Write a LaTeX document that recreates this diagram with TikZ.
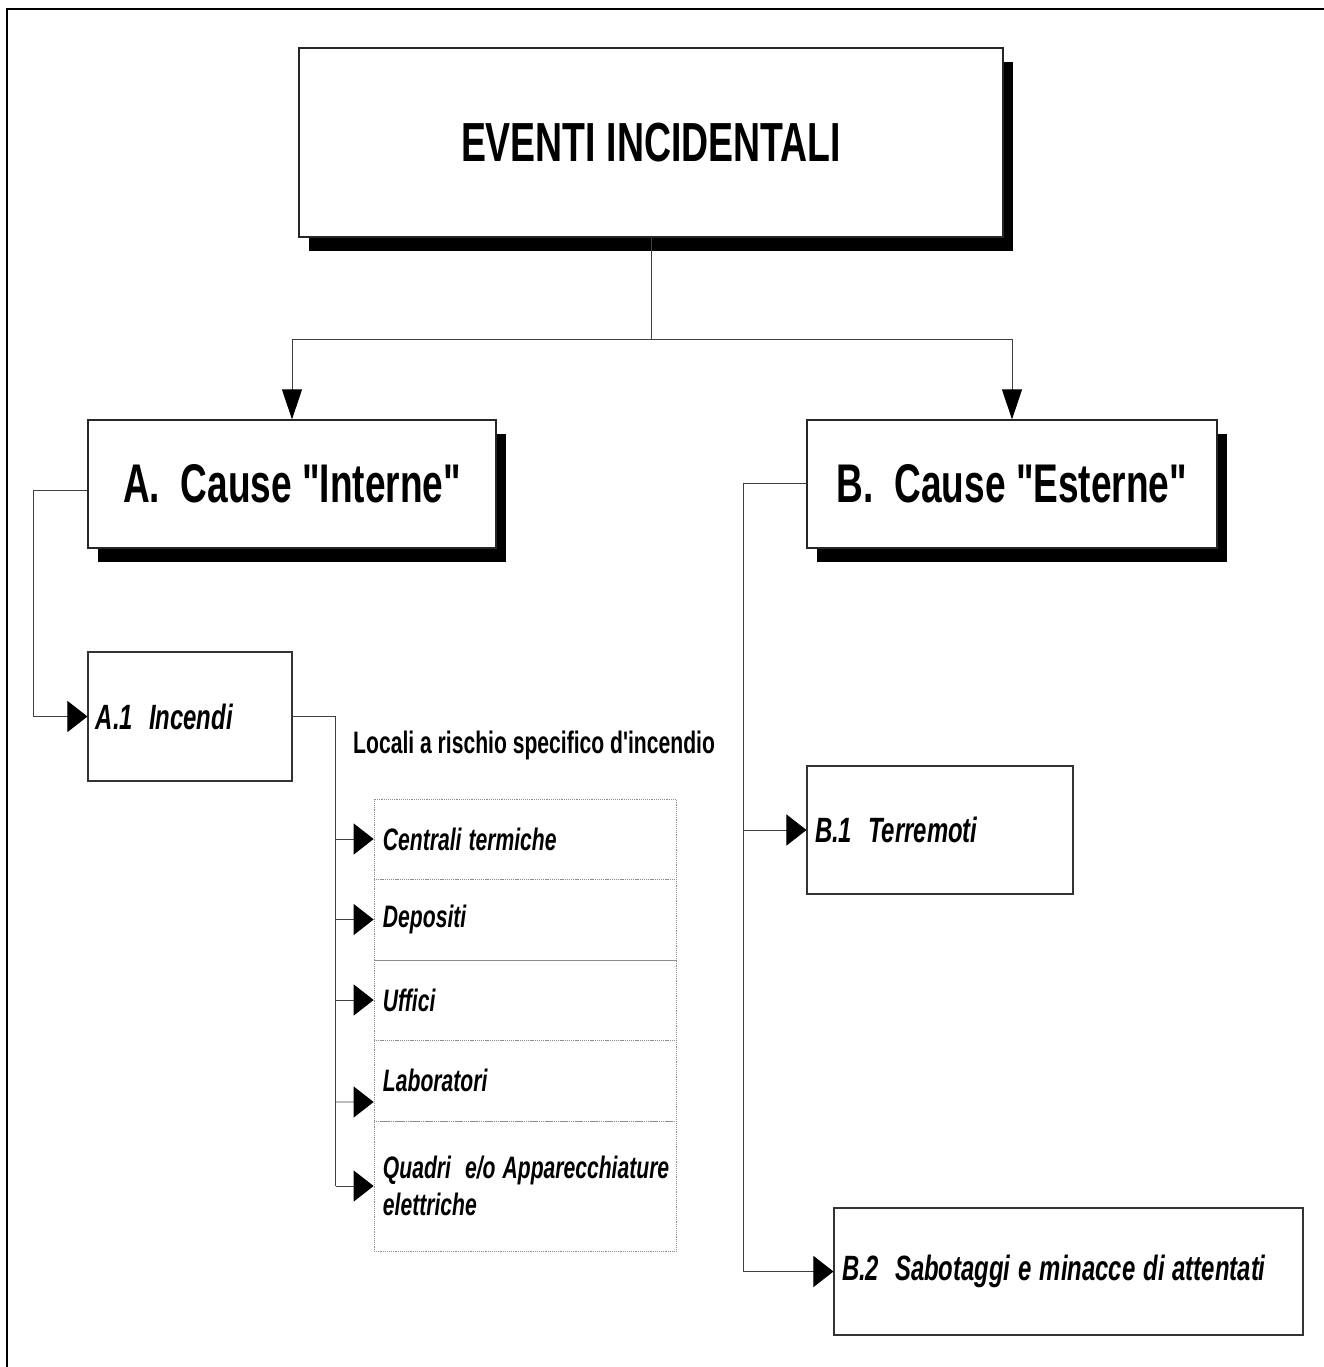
\documentclass[tikz,border=0pt]{standalone}
\usepackage{graphicx}
\usepackage{fontspec}
\setmainfont{Liberation Sans}
\usetikzlibrary{arrows.meta}
\usetikzlibrary{shadows}
\usetikzlibrary{positioning}

\newcommand\nar[1]{\scalebox{0.68}[1]{#1}}

\tikzset{
  shadowbox/.style={draw=black!85, line width=1.1pt, fill=white,
    drop shadow={shadow xshift=0.29cm, shadow yshift=-0.42cm, fill=black, opacity=1}},
  subbox/.style={draw=black!80, line width=0.9pt, fill=white, inner xsep=0.24cm,
    align=left, font=\fontsize{30}{34}\selectfont\bfseries\itshape},
  rowbox/.style={draw=black!45, densely dotted, line width=0.6pt, minimum width=9.06cm,
    text width=8.52cm, inner xsep=0.27cm, align=left,
    font=\fontsize{26.5}{32}\selectfont\bfseries\itshape},
  conn/.style={draw=black!75, line width=0.8pt},
  downtip/.style={-{Triangle[length=0.9cm,width=0.6cm,color=black]}},
  righttip/.style={-{Triangle[length=0.6cm,width=0.93cm,color=black]}}
}

\begin{document}
\begin{tikzpicture}[x=0.03cm,y=-0.03cm]
\useasboundingbox (0,0) rectangle (1324,1367);
\draw[line width=2.4pt] (7,1367) -- (7,9) -- (1324,9);

\node[shadowbox, minimum width=21.12cm, minimum height=5.67cm,
  font=\fontsize{47}{52}\selectfont\bfseries] (eventi) at (651,142.5) {\nar{EVENTI INCIDENTALI}};

\node[shadowbox, minimum width=12.24cm, minimum height=3.84cm,
  font=\fontsize{46.5}{52}\selectfont\bfseries] (interne) at (292,484)
  {\nar{A.\ \ Cause \textquotedbl Interne\textquotedbl}};
\node[shadowbox, minimum width=12.3cm, minimum height=3.84cm,
  font=\fontsize{46.5}{52}\selectfont\bfseries] (esterne) at (1012,484)
  {\nar{B.\ \ Cause \textquotedbl Esterne\textquotedbl}};

\node[subbox, minimum width=6.12cm, minimum height=3.87cm, text width=5.64cm] (incendi) at (190,716.5) {\nar{A.1\ \ Incendi}};
\node[subbox, minimum width=7.98cm, minimum height=3.84cm, text width=7.5cm] (terremoti) at (940,830) {\nar{B.1\ \ Terremoti}};
\node[subbox, minimum width=14.07cm, minimum height=3.81cm, text width=13.59cm] (sabotaggi) at (1068.5,1271.5) {\nar{B.2\ \ Sabotaggi e minacce di attentati}};

\node[anchor=base west, inner sep=0pt, font=\fontsize{26.5}{32}\selectfont\bfseries] (locali) at (353,753)
  {\nar{Locali a rischio specifico d\textquotesingle incendio}};

\node[rowbox, minimum height=2.4cm] (centrali) at (525,839) {\nar{Centrali termiche}};
\node[rowbox, minimum height=2.43cm] (depositi) at (525,919.5) {\nar{Depositi}};
\node[rowbox, minimum height=2.4cm] (uffici) at (525,1000) {\nar{Uffici}};
\node[rowbox, minimum height=2.43cm] (laboratori) at (525,1080.5) {\nar{Laboratori}};
\node[rowbox, minimum height=3.9cm] (quadri) at (525,1186) {\nar{Quadri\ \ e/o Apparecchiature}\\\nar{elettriche}};

\draw[conn] (eventi.south) -- ++(0,102) coordinate (split);
\draw[conn,downtip] (split) -| (interne.north);
\draw[conn,downtip] (split) -| (esterne.north);

\draw[conn,righttip] ([yshift=-0.18cm]interne.west) -- ++(-54,0) |- (incendi.west);

\draw[conn] (incendi.east) -- ++(43,0) coordinate (lj) -- (lj |- quadri.west);
\foreach \r in {centrali,depositi,uffici,quadri}
  \draw[conn,righttip] (lj |- \r.west) -- (\r.west);
\draw[conn,righttip] (lj |- 0,1102) -- ([yshift=-0.645cm]laboratori.west);

\draw[conn] ([yshift=0.03cm]esterne.west) -- ++(-63,0) coordinate (bj) -- (bj |- sabotaggi.west);
\draw[conn,righttip] (bj |- terremoti.west) -- (terremoti.west);
\draw[conn,righttip] (bj |- sabotaggi.west) -- (sabotaggi.west);
\end{tikzpicture}
\end{document}
